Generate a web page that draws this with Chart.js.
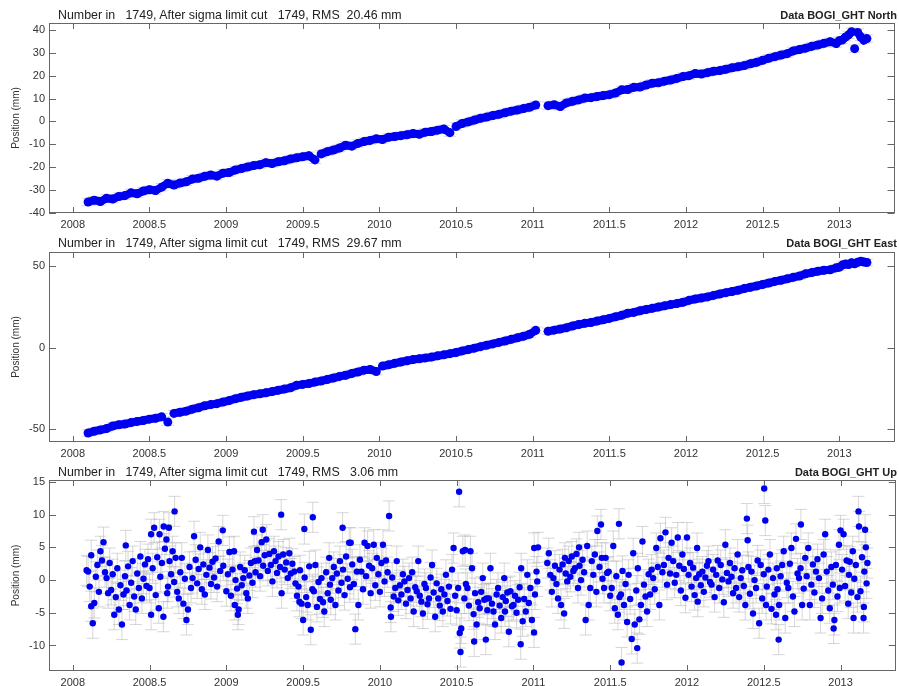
<!DOCTYPE html>
<html>
<head>
<meta charset="utf-8">
<script src="https://cdn.jsdelivr.net/npm/chart.js@4.4.1/dist/chart.umd.min.js"></script>
<style>
  body { margin: 0; background: #fff; }
  #page { position: relative; width: 899px; height: 686px; font-family: "Liberation Sans", Arial, sans-serif; color: #222; }
  .panel { position: absolute; left: 0; width: 899px; }
  .info { position: absolute; left: 58px; font-size: 12.4px; line-height: 14px; white-space: pre; z-index: 2; }
  .name { position: absolute; right: 2px; font-size: 11px; line-height: 14px; font-weight: bold; z-index: 2; }
</style>
</head>
<body>
<div id="page">
  <div class="info" style="top:8px">Number in   1749, After sigma limit cut   1749, RMS  20.46 mm</div>
  <div class="name" style="top:8px">Data BOGI_GHT North</div>
  <div class="info" style="top:236px">Number in   1749, After sigma limit cut   1749, RMS  29.67 mm</div>
  <div class="name" style="top:236px">Data BOGI_GHT East</div>
  <div class="info" style="top:465px">Number in   1749, After sigma limit cut   1749, RMS   3.06 mm</div>
  <div class="name" style="top:465px">Data BOGI_GHT Up</div>
  <div class="panel" style="top:0;height:232px"><canvas id="north" width="899" height="232"></canvas></div>
  <div class="panel" style="top:232px;height:229px"><canvas id="east" width="899" height="229"></canvas></div>
  <div class="panel" style="top:461px;height:225px"><canvas id="up" width="899" height="225"></canvas></div>
</div>
<script>
// decimal year epochs used for North and East
const neTimes = [
  2008.10, 2008.14, 2008.18, 2008.22, 2008.26, 2008.30, 2008.34, 2008.38, 2008.42, 2008.46, 2008.50, 2008.54,
  2008.58, 2008.62, 2008.66, 2008.70, 2008.74, 2008.78, 2008.82, 2008.86, 2008.90, 2008.94, 2008.98,
  2009.02, 2009.06, 2009.10, 2009.14, 2009.18, 2009.22, 2009.26, 2009.30, 2009.34, 2009.38, 2009.42, 2009.46,
  2009.50, 2009.54, 2009.58, 2009.62, 2009.66, 2009.70, 2009.74, 2009.78, 2009.82, 2009.86, 2009.90, 2009.94, 2009.98,
  2010.02, 2010.06, 2010.10, 2010.14, 2010.18, 2010.22, 2010.26, 2010.30, 2010.34, 2010.38, 2010.42, 2010.46,
  2010.50, 2010.54, 2010.58, 2010.62, 2010.66, 2010.70, 2010.74, 2010.78, 2010.82, 2010.86, 2010.90, 2010.94, 2010.98,
  2011.02, 2011.10, 2011.14, 2011.18, 2011.22, 2011.26, 2011.30, 2011.34, 2011.38, 2011.42, 2011.46, 2011.50,
  2011.54, 2011.58, 2011.62, 2011.66, 2011.70, 2011.74, 2011.78, 2011.82, 2011.86, 2011.90, 2011.94, 2011.98,
  2012.02, 2012.06, 2012.10, 2012.14, 2012.18, 2012.22, 2012.26, 2012.30, 2012.34, 2012.38, 2012.42, 2012.46,
  2012.50, 2012.54, 2012.58, 2012.62, 2012.66, 2012.70, 2012.74, 2012.78, 2012.82, 2012.86, 2012.90, 2012.94, 2012.98,
  2013.00, 2013.02, 2013.04, 2013.06, 2013.08, 2013.10, 2013.12, 2013.14, 2013.16, 2013.18
];
const northValues = [
  -35.2, -34.4, -35.0, -33.6, -33.9, -32.8, -32.4, -31.2, -31.6, -30.4, -29.8, -30.2,
  -28.7, -27.0, -27.8, -26.9, -26.4, -25.2, -24.8, -24.0, -23.4, -23.9, -22.6,
  -22.3, -21.2, -20.6, -19.9, -19.3, -18.9, -18.0, -18.4, -17.6, -17.2, -16.4, -15.9,
  -15.4, -15.0, -16.8, -14.2, -13.2, -12.5, -11.6, -10.4, -10.8, -9.6, -8.8, -8.3, -7.6,
  -7.9, -6.9, -6.6, -6.2, -5.8, -5.3, -5.6, -4.7, -4.4, -3.8, -3.3, -4.9,
  -2.2, -0.9, -0.2, 0.6, 1.4, 1.9, 2.6, 3.1, 3.8, 4.5, 5.0, 5.6, 6.2,
  7.2, 6.9, 7.3, 6.5, 8.1, 8.8, 9.4, 10.2, 10.4, 10.9, 11.3, 11.7,
  12.4, 13.8, 13.9, 14.9, 15.0, 15.9, 16.7, 16.9, 17.6, 18.1, 18.8, 19.6,
  20.0, 20.9, 20.7, 21.3, 21.9, 22.2, 22.8, 23.4, 23.9, 24.4, 25.2, 25.8,
  26.7, 27.6, 28.3, 29.0, 29.6, 30.8, 31.4, 32.0, 32.8, 33.4, 34.1, 34.8, 34.0,
  35.3, 35.6, 36.8, 37.8, 39.2, 31.8, 38.9, 36.9, 35.5, 36.2
];
const eastValues = [
  -52.3, -51.2, -50.4, -49.6, -48.0, -47.2, -46.8, -45.9, -45.2, -44.6, -43.8, -43.3,
  -42.4, -45.6, -40.3, -39.6, -38.9, -37.7, -36.8, -35.6, -34.9, -34.3, -33.3,
  -32.4, -31.3, -30.4, -29.6, -28.8, -28.3, -27.6, -26.9, -26.1, -25.4, -24.6, -23.1,
  -22.5, -22.0, -21.1, -20.4, -19.5, -18.6, -17.6, -16.9, -15.8, -14.9, -13.8, -13.4, -14.6,
  -11.3, -10.5, -9.6, -8.8, -8.0, -7.3, -6.8, -6.3, -5.8, -5.0, -4.4, -3.7,
  -3.0, -2.0, -1.2, -0.3, 0.6, 1.5, 2.3, 3.2, 4.1, 5.1, 6.0, 7.0, 8.2,
  10.6, 10.0, 10.7, 11.4, 12.2, 13.3, 14.2, 14.9, 15.4, 16.3, 17.1, 17.9,
  18.9, 19.8, 21.1, 21.6, 22.6, 23.4, 24.1, 24.9, 25.6, 26.4, 27.0, 27.8,
  29.0, 29.8, 30.4, 31.1, 32.0, 32.9, 33.7, 34.4, 35.2, 36.2, 37.0, 37.8,
  38.7, 39.6, 40.6, 41.3, 42.2, 43.1, 43.9, 45.2, 46.0, 46.8, 47.4, 47.7, 48.9,
  49.3, 50.6, 51.3, 50.9, 52.0, 51.4, 52.3, 52.9, 52.5, 52.2
];

const upTimes = [
  2008.09, 2008.10, 2008.11, 2008.12, 2008.12, 2008.13, 2008.14, 2008.15, 2008.16, 2008.17, 2008.18, 2008.19, 2008.20, 2008.21, 2008.22,
  2008.23, 2008.24, 2008.25, 2008.26, 2008.27, 2008.28, 2008.29, 2008.30, 2008.31, 2008.32, 2008.33, 2008.34, 2008.345, 2008.35, 2008.36,
  2008.37, 2008.38, 2008.39, 2008.40, 2008.41, 2008.42, 2008.43, 2008.44, 2008.45, 2008.46, 2008.47, 2008.48, 2008.49, 2008.50,
  2008.51, 2008.51, 2008.52, 2008.53, 2008.54, 2008.55, 2008.56, 2008.565, 2008.57, 2008.58, 2008.59, 2008.592, 2008.60, 2008.61, 2008.615,
  2008.62, 2008.626, 2008.63, 2008.64, 2008.65, 2008.66, 2008.663, 2008.67, 2008.68, 2008.69, 2008.70, 2008.71, 2008.72, 2008.73, 2008.74,
  2008.75, 2008.76, 2008.77, 2008.78, 2008.79, 2008.80,
  2008.81, 2008.82, 2008.83, 2008.84, 2008.85, 2008.86, 2008.87, 2008.88, 2008.89, 2008.90, 2008.91, 2008.92, 2008.93, 2008.94, 2008.95,
  2008.96, 2008.977, 2008.98, 2009.00, 2009.01, 2009.02, 2009.03, 2009.04, 2009.05, 2009.055, 2009.06, 2009.07, 2009.075, 2009.08, 2009.09,
  2009.10, 2009.11, 2009.12, 2009.13, 2009.14, 2009.15, 2009.16, 2009.17, 2009.18, 2009.185,
  2009.19, 2009.20, 2009.21, 2009.22, 2009.23, 2009.237, 2009.24, 2009.25, 2009.26, 2009.27, 2009.28, 2009.29, 2009.30, 2009.31, 2009.32,
  2009.33, 2009.34, 2009.35, 2009.357, 2009.36, 2009.37, 2009.38, 2009.39, 2009.40, 2009.41, 2009.42, 2009.43, 2009.443, 2009.45,
  2009.46, 2009.47, 2009.476, 2009.48, 2009.49, 2009.50, 2009.508, 2009.51, 2009.52, 2009.53, 2009.54, 2009.55, 2009.56, 2009.563,
  2009.57, 2009.58, 2009.59, 2009.60, 2009.61, 2009.62, 2009.63, 2009.638, 2009.65, 2009.66, 2009.67, 2009.675, 2009.68, 2009.69,
  2009.70, 2009.71, 2009.72, 2009.73, 2009.74, 2009.75, 2009.757, 2009.76, 2009.77, 2009.78, 2009.79, 2009.80, 2009.805, 2009.81, 2009.82,
  2009.83, 2009.84, 2009.85, 2009.86, 2009.87, 2009.88, 2009.89, 2009.90, 2009.91, 2009.92, 2009.93, 2009.94, 2009.95, 2009.96, 2009.97,
  2009.98, 2009.99, 2010.00, 2010.01, 2010.02, 2010.03, 2010.04, 2010.05, 2010.06,
  2010.07, 2010.072, 2010.08, 2010.09, 2010.10, 2010.11, 2010.12, 2010.13, 2010.14, 2010.15, 2010.16, 2010.17, 2010.18, 2010.19, 2010.20,
  2010.21, 2010.22, 2010.23, 2010.24, 2010.25, 2010.26, 2010.27, 2010.28, 2010.29, 2010.30, 2010.31, 2010.32, 2010.33, 2010.34, 2010.35,
  2010.36, 2010.37, 2010.38, 2010.39, 2010.40, 2010.41, 2010.42, 2010.43, 2010.44, 2010.45, 2010.46, 2010.47, 2010.48,
  2010.49, 2010.50, 2010.51, 2010.516, 2010.52, 2010.525, 2010.53, 2010.54, 2010.55, 2010.555,
  2010.56, 2010.57, 2010.58, 2010.59, 2010.60, 2010.61, 2010.614, 2010.62, 2010.63, 2010.64,
  2010.65, 2010.66, 2010.67, 2010.68, 2010.69, 2010.695, 2010.70, 2010.71, 2010.72, 2010.73,
  2010.74, 2010.75, 2010.76, 2010.77, 2010.78, 2010.79, 2010.80, 2010.81, 2010.815, 2010.82,
  2010.83, 2010.84, 2010.85, 2010.86, 2010.87, 2010.88, 2010.89, 2010.90, 2010.91, 2010.917,
  2010.92, 2010.93, 2010.94, 2010.95, 2010.96, 2010.97, 2010.98, 2010.99, 2011.004, 2011.005,
  2011.01, 2011.02, 2011.025, 2011.03,
  2011.09, 2011.10, 2011.11, 2011.12, 2011.13, 2011.14, 2011.15, 2011.16, 2011.17, 2011.18,
  2011.19, 2011.20, 2011.205, 2011.21, 2011.22, 2011.23, 2011.24, 2011.25, 2011.26, 2011.27,
  2011.28, 2011.29, 2011.297, 2011.30, 2011.31, 2011.32, 2011.33, 2011.34, 2011.35, 2011.36,
  2011.37, 2011.38, 2011.39, 2011.40, 2011.41, 2011.416, 2011.43, 2011.44, 2011.445, 2011.45,
  2011.46, 2011.47, 2011.48, 2011.49, 2011.50,
  2011.51, 2011.52, 2011.53, 2011.54, 2011.55, 2011.557, 2011.56, 2011.57, 2011.574, 2011.58,
  2011.59, 2011.60, 2011.61, 2011.62, 2011.63, 2011.64, 2011.65, 2011.66, 2011.67, 2011.676,
  2011.68, 2011.69, 2011.70, 2011.71, 2011.72, 2011.73, 2011.74, 2011.75, 2011.76, 2011.77,
  2011.78,
  2011.79, 2011.80, 2011.81, 2011.82, 2011.827, 2011.84, 2011.85, 2011.86, 2011.87, 2011.88,
  2011.89, 2011.90, 2011.91, 2011.92, 2011.93, 2011.94, 2011.95, 2011.96, 2011.97, 2011.98,
  2011.99, 2012.00, 2012.01, 2012.02, 2012.03, 2012.04, 2012.05, 2012.06, 2012.066,
  2012.07, 2012.08, 2012.09, 2012.10, 2012.11, 2012.12, 2012.13, 2012.14, 2012.15, 2012.16,
  2012.17, 2012.18, 2012.19, 2012.20, 2012.21, 2012.22, 2012.23, 2012.24, 2012.25, 2012.26,
  2012.27, 2012.28, 2012.29, 2012.30, 2012.31, 2012.32, 2012.33, 2012.34, 2012.35, 2012.36,
  2012.37, 2012.38,
  2012.39, 2012.395, 2012.40, 2012.41, 2012.42, 2012.43, 2012.44, 2012.45, 2012.46, 2012.47,
  2012.48, 2012.49, 2012.50, 2012.503, 2012.51, 2012.515, 2012.52, 2012.53, 2012.54, 2012.55,
  2012.56, 2012.57, 2012.58, 2012.585, 2012.59, 2012.597, 2012.60, 2012.61, 2012.62, 2012.63,
  2012.64, 2012.65, 2012.66, 2012.67, 2012.68, 2012.69, 2012.70, 2012.71,
  2012.72, 2012.73, 2012.74, 2012.742, 2012.75, 2012.76, 2012.77, 2012.78, 2012.79, 2012.80,
  2012.81, 2012.82, 2012.83, 2012.84, 2012.85, 2012.86, 2012.87, 2012.88, 2012.89, 2012.90,
  2012.91, 2012.92, 2012.93, 2012.94, 2012.95, 2012.955, 2012.96, 2012.97, 2012.98, 2012.99,
  2012.995, 2013.00, 2013.01, 2013.02, 2013.03, 2013.04, 2013.05, 2013.055, 2013.06, 2013.07,
  2013.08, 2013.085, 2013.09, 2013.10, 2013.11, 2013.117, 2013.12, 2013.13, 2013.14, 2013.15,
  2013.152, 2013.155, 2013.16, 2013.165, 2013.17, 2013.175
];
const upValues = [
  1.5, 1.3, -1.0, 3.8, -4.0, -6.6, -3.5, 0.5, 2.3, -1.8, 4.4, 3.0, 5.8, 1.2, 0.3,
  -2.0, 2.6, -1.5, 0.9, -5.3, -2.6, 1.8, -4.5, -0.8, -6.8, -2.2, 0.6, 5.3, -1.6, 2.1,
  -3.8, -0.4, 2.9, -2.5, -4.5, 1.0, -1.2, 3.6, -2.8, 0.2, 2.4, -0.9, 3.2, -1.2,
  -5.3, 7.0, 1.8, 8.0, -2.3, 3.5, -4.3, 7.0, 0.5, 2.6, -5.6, 8.2, 4.8, 6.2, -2.0,
  -1.0, 8.0, 2.9, 0.9, 4.4, -0.3, 10.5, 3.4, -1.8, -2.8, 1.2, 3.4, -3.6, 0.2, -6.1,
  -4.5, 2.0, -1.2, 0.3, 6.7, 3.1,
  -0.5, 1.7, 5.0, -1.4, 2.4, -2.2, 0.8, 4.6, 1.9, -0.6, 2.8, 0.4, 3.3, -1.0, 5.9,
  1.4, 7.6, 2.2, -1.7, 0.9, 4.3, -2.4, 1.6, 4.4, -3.8, 0.0, -1.3, -5.3, -4.5, 2.0,
  -0.8, 0.3, 1.5, -2.0, -2.8, 0.7, 2.6, -0.4, 7.4, 2.9,
  1.2, 4.6, 3.0, 0.6, 5.8, 7.7, 2.2, 3.8, 6.2, 1.4, 4.0, 2.3, -0.2, 4.4, 2.9,
  1.1, 3.6, 2.0, 10.0, -2.0, 3.9, 1.6, 2.7, 0.3, 4.1, 1.0, 2.5, 1.3, -0.5,
  -2.4, -1.0, -3.3, 1.5, -3.6, -6.1, 7.8, 0.4, -2.6, -3.8, 2.1, -7.6, -1.4, 9.6,
  -1.7, 2.3, -4.1, -0.3, -2.9, 0.3, -3.4, -4.8, 1.2, -2.0, 3.4, -0.7, -3.0, 0.3,
  2.0, -3.8, 1.0, -1.6, 2.9, -0.4, 8.0, 1.6, -2.3, 3.6, 0.2, 5.7, -1.1, 5.7, 2.4,
  -0.6, -7.5, 1.3, -3.8, 3.1, 1.3, -1.4, 5.7, 0.6, 5.2, 2.2, -2.0, 1.8, 5.4, -0.8,
  3.4, 0.9, -1.8, 2.6, 5.4, -0.2, 3.0, 1.2, 9.8,
  -4.2, -5.6, 0.4, -2.5, -1.2, 2.9, -3.1, -0.8, -2.2, 0.9, -0.2, -3.6, -1.5, 0.3, -2.8,
  1.2, -4.8, -1.1, -1.7, 2.9, -2.4, -3.3, -5.1, -0.6, -1.2, -3.7, -2.8, 0.4, 2.3, -1.9,
  -5.6, -0.5, -2.8, -3.9, -1.4, -4.8, -2.2, 0.8, -3.2, -1.0, -4.4, 1.6, 4.9,
  -2.4, -4.6, -1.2, 13.5, -8.1, -11.0, -7.4, 4.4, -2.8, 4.6,
  -0.6, -1.2, -3.9, 4.4, 1.8, -5.2, -9.4, -2.0, -6.8, -3.4,
  -4.3, -1.8, 0.3, -3.0, -9.1, -2.8, -4.6, -2.8, 1.8, -3.6,
  -4.8, -6.8, -2.2, -1.2, -3.9, -5.8, -2.6, 0.3, -4.8, -3.2,
  -1.9, -7.9, -1.7, -4.0, -3.8, -2.4, -5.0, -3.0, -1.1, -9.8,
  1.8, -6.3, -2.9, -4.8, 0.8, -3.5, -1.2, -6.1, -8.0, 4.9,
  -2.2, 1.3, -0.2, 5.0,
  2.6, 4.1, 0.8, -1.8, 0.3, 2.2, -0.6, -2.8, 1.6, -3.8,
  2.4, -5.1, 3.4, 1.0, -0.2, 2.9, 0.5, 3.6, 1.4, 1.8,
  4.0, -1.2, 5.0, 2.2, 0.0, 3.1, 1.2, -6.1, 5.2, -3.8,
  -1.2, 2.9, 0.8, 3.9, -1.8, 7.5, 2.0, 8.5, 3.4, 0.2,
  -1.2, 3.4, 1.1, 1.3, -2.4,
  -1.2, 5.2, -4.3, 0.6, -5.3, 8.6, -2.6, -2.2, -12.6, 1.4,
  -3.8, -0.6, -6.4, 0.8, -2.9, -9.0, 4.1, -6.8, -1.6, -10.4,
  1.8, -6.0, -3.8, 5.9, -0.7, -2.5, -4.8, 0.9, -2.2, 1.6,
  0.3,
  -1.4, 4.9, 2.0, -3.8, 6.4, 1.2, 2.3, 7.3, -0.7, 3.4,
  1.0, 5.7, 2.9, -0.4, 0.8, 6.5, 2.2, -1.6, 3.9, 1.7,
  -2.7, 6.5, 0.8, 2.6, -1.0, 1.9, -2.3, 0.3, 4.9,
  -3.3, 0.9, -0.8, 1.3, -1.8, 0.4, 2.2, 2.9, -0.3, -0.7,
  1.6, -2.6, 0.8, 3.0, -1.2, 2.3, 0.1, -3.4, 5.4, 1.1,
  -0.2, 2.6, 0.5, -2.0, 1.8, -1.2, 3.9, -2.6, 0.3, 1.5,
  -0.9, -3.8,
  9.4, 6.1, 2.0, -2.1, 1.3, -5.1, 0.0, -1.2, 3.0, -6.6,
  2.3, -2.8, 0.9, 14.0, 9.1, -3.8, -1.0, 1.6, 3.9, -4.4,
  0.3, -2.2, -5.3, 1.8, -1.4, -9.1, -3.8, 0.6, 2.3, 4.4,
  -5.8, -0.4, -1.2, 2.5, 4.9, -2.5, -4.8, 6.3,
  1.0, 0.3, 1.8, 8.5, -3.8, -1.3, 3.4, 0.6, 4.9, -3.8,
  -0.7, 2.4, -1.9, 1.3, 3.2, 0.3, -5.8, -2.8, 3.9, 7.0,
  1.3, -1.6, -4.3, 2.0, -0.7, -7.4, -6.1, 2.3, -2.5, 5.4,
  -1.2, 7.6, 1.6, 7.0, -0.9, 3.0, -3.6, 0.8, 2.8, -1.9,
  4.4, -5.8, 0.2, 2.3, -2.6, 10.5, 8.2, -1.7, 3.5, -5.8,
  -4.1, 1.3, 7.7, 5.0, -0.5, 2.6
];

// typical formal error (mm) per component
const northSigma = 1.6;
const eastSigma = 2.0;
const upSigma = 2.3;

if (upTimes.length !== upValues.length) console.log("up length mismatch", upTimes.length, upValues.length);
if (neTimes.length !== northValues.length || neTimes.length !== eastValues.length)
  console.log("ne length mismatch", neTimes.length, northValues.length, eastValues.length);

const FONT = "'Liberation Sans', Arial, sans-serif";
const BLUE = "#0000f0";

const frame = {
  id: "frame",
  beforeDatasetsDraw(chart, args, opts) {
    const { ctx, chartArea: a, scales: { x, y } } = chart;
    ctx.save();
    ctx.beginPath();
    ctx.rect(a.left, a.top, a.width, a.height);
    ctx.clip();
    ctx.strokeStyle = "rgba(175,175,175,0.5)";
    ctx.lineWidth = 1;
    ctx.beginPath();
    chart.data.datasets[0].data.forEach((p) => {
      const px = x.getPixelForValue(p.x);
      const y1 = y.getPixelForValue(p.y + opts.sigma);
      const y2 = y.getPixelForValue(p.y - opts.sigma);
      ctx.moveTo(px, y1); ctx.lineTo(px, y2);
      ctx.moveTo(px - 6, y1); ctx.lineTo(px + 6, y1);
      ctx.moveTo(px - 6, y2); ctx.lineTo(px + 6, y2);
    });
    ctx.stroke();
    ctx.restore();
  },
  afterDraw(chart) {
    const { ctx, chartArea: a, scales: { x, y } } = chart;
    ctx.save();
    ctx.strokeStyle = "#666";
    ctx.lineWidth = 1;
    ctx.strokeRect(Math.round(a.left) + 0.5, Math.round(a.top) + 0.5, Math.round(a.width) - 1, Math.round(a.height) - 1);
    ctx.beginPath();
    x.ticks.forEach((t) => {
      const px = Math.round(x.getPixelForValue(t.value)) + 0.5;
      ctx.moveTo(px, a.bottom); ctx.lineTo(px, a.bottom - 6);
      ctx.moveTo(px, a.top); ctx.lineTo(px, a.top + 6);
    });
    y.ticks.forEach((t) => {
      const py = Math.round(y.getPixelForValue(t.value)) + 0.5;
      ctx.moveTo(a.left, py); ctx.lineTo(a.left + 7, py);
      ctx.moveTo(a.right, py); ctx.lineTo(a.right - 7, py);
    });
    ctx.stroke();
    ctx.restore();
  },
};

// hide joins across data gaps and big jumps so the band only fills dense runs
const hideJump = (c) =>
  c.p1.parsed.x - c.p0.parsed.x > 0.06 || Math.abs(c.p1.parsed.y - c.p0.parsed.y) > 2.6 ? "rgba(0,0,0,0)" : undefined;

function makePanel(id, times, values, yMin, yMax, yStep, sigma, padTop, xHeight, radius, band) {
  new Chart(id, {
    type: "scatter",
    data: {
      datasets: [
        {
          data: times.map((t, i) => ({ x: t, y: values[i] })),
          backgroundColor: BLUE,
          borderColor: BLUE,
          borderWidth: band,
          showLine: band > 0,
          segment: { borderColor: hideJump },
          pointBorderWidth: 0,
          pointRadius: radius,
          pointHoverRadius: radius,
        },
      ],
    },
    plugins: [frame],
    options: {
      responsive: false,
      animation: false,
      layout: { padding: { top: padTop, right: 2, left: 0, bottom: 0 } },
      plugins: { legend: { display: false }, tooltip: { enabled: false }, frame: { sigma: sigma } },
      scales: {
        x: {
          type: "linear",
          min: 2007.845,
          max: 2013.36,
          grid: { display: false, drawTicks: false },
          border: { display: false },
          afterFit: (s) => { s.height = xHeight; },
          ticks: {
            stepSize: 0.5,
            includeBounds: false,
            padding: 5,
            maxRotation: 0,
            autoSkip: false,
            color: "#333",
            font: { family: FONT, size: 11 },
            callback: (v) => String(Math.round(v * 10) / 10),
          },
        },
        y: {
          min: yMin,
          max: yMax,
          grid: { display: false, drawTicks: false },
          border: { display: false },
          afterFit: (s) => { s.width = 49; },
          title: { display: true, text: "Position (mm)", color: "#333", font: { family: FONT, size: 10 }, padding: { top: 10, bottom: 0 } },
          ticks: {
            stepSize: yStep,
            includeBounds: false,
            padding: 4,
            color: "#333",
            font: { family: FONT, size: 11 },
          },
        },
      },
    },
  });
}

makePanel("north", neTimes, northValues, -40, 43, 10, northSigma, 23, 19, 4.5, 8);
makePanel("east", neTimes, eastValues, -57.8, 58.6, 50, eastSigma, 20, 19, 4.5, 8);
makePanel("up", upTimes, upValues, -13.9, 15.3, 5, upSigma, 19, 15, 3.2, 0);
</script>
</body>
</html>
